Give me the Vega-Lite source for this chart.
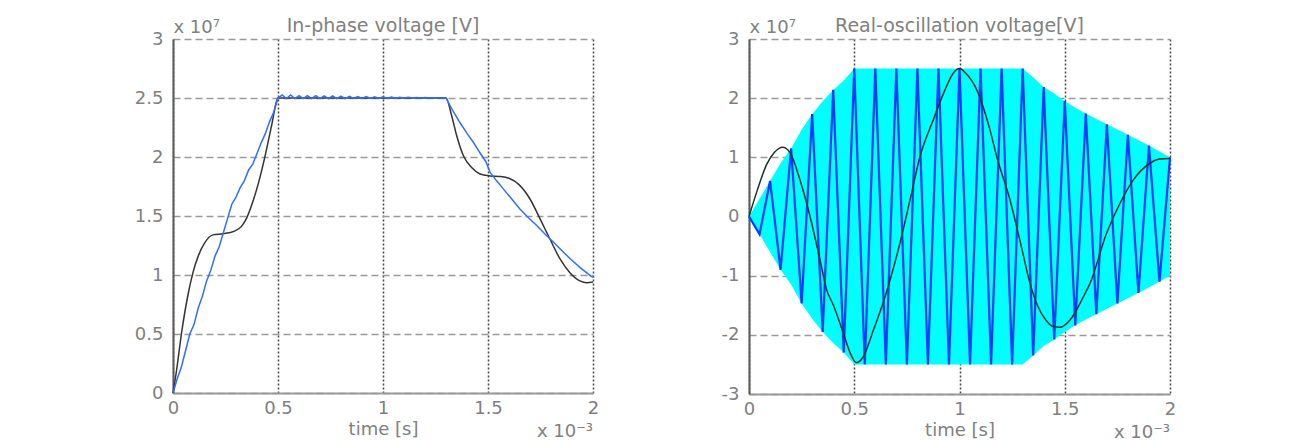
{
 "$schema": "https://vega.github.io/schema/vega-lite/v6.json",
 "padding": {"left": 134, "top": 17, "right": 5, "bottom": 0},
 "spacing": 156,
 "bounds": "flush",
 "config": {
  "font": "DejaVu Sans",
  "view": {"stroke": null},
  "title": {"fontSize": 19, "fontWeight": "normal", "color": "#808080", "offset": -18},
  "axis": {"labelFontSize": 18, "labelColor": "#808080", "titleFontSize": 18, "titleFontWeight": "normal", "titleColor": "#808080", "ticks": false, "domainWidth": 2, "labelFlush": false, "labelOverlap": false, "labelExpr": "toString(datum.value)", "labelPadding": 10},
  "axisX": {"gridColor": "#444444", "gridDash": [2, 2], "gridWidth": 1.5, "domainColor": "#999999", "labelPadding": 6, "titlePadding": 3},
  "axisY": {"gridColor": "#9a9a9a", "gridDash": [7, 4], "gridWidth": 1.5, "domainColor": "#5a5a5a", "titleAngle": 0, "titleX": 0, "titleY": -7, "titleAlign": "left", "titleBaseline": "alphabetic"}
 },
 "datasets": {
  "inphase_black": [
   {"t": 0, "v": 0}, {"t": 0.016, "v": 0.18}, {"t": 0.04, "v": 0.5}, {"t": 0.07, "v": 0.82}, {"t": 0.095, "v": 1.02}, {"t": 0.12, "v": 1.16}, {"t": 0.15, "v": 1.27}, {"t": 0.19, "v": 1.34}, {"t": 0.24, "v": 1.35}, {"t": 0.29, "v": 1.37}, {"t": 0.325, "v": 1.41}, {"t": 0.35, "v": 1.48}, {"t": 0.38, "v": 1.62}, {"t": 0.41, "v": 1.8}, {"t": 0.44, "v": 2.02}, {"t": 0.47, "v": 2.27}, {"t": 0.5, "v": 2.5}, {"t": 1.3, "v": 2.5}, {"t": 1.327, "v": 2.35}, {"t": 1.351, "v": 2.18}, {"t": 1.383, "v": 2.01}, {"t": 1.422, "v": 1.91}, {"t": 1.462, "v": 1.856}, {"t": 1.51, "v": 1.84}, {"t": 1.56, "v": 1.835}, {"t": 1.6, "v": 1.82}, {"t": 1.645, "v": 1.77}, {"t": 1.7, "v": 1.644}, {"t": 1.748, "v": 1.475}, {"t": 1.795, "v": 1.305}, {"t": 1.843, "v": 1.136}, {"t": 1.89, "v": 1.02}, {"t": 1.938, "v": 0.95}, {"t": 1.97, "v": 0.935}, {"t": 2.0, "v": 0.94}
  ],
  "inphase_blue": [
   {"t": 0, "v": 0}, {"t": 0.02, "v": 0.12}, {"t": 0.04, "v": 0.22}, {"t": 0.06, "v": 0.36}, {"t": 0.08, "v": 0.5}, {"t": 0.1, "v": 0.58}, {"t": 0.12, "v": 0.72}, {"t": 0.14, "v": 0.82}, {"t": 0.16, "v": 0.95}, {"t": 0.18, "v": 1.04}, {"t": 0.2, "v": 1.16}, {"t": 0.22, "v": 1.24}, {"t": 0.24, "v": 1.36}, {"t": 0.26, "v": 1.48}, {"t": 0.28, "v": 1.6}, {"t": 0.3, "v": 1.66}, {"t": 0.32, "v": 1.74}, {"t": 0.34, "v": 1.8}, {"t": 0.36, "v": 1.89}, {"t": 0.38, "v": 1.94}, {"t": 0.4, "v": 2.03}, {"t": 0.42, "v": 2.12}, {"t": 0.44, "v": 2.2}, {"t": 0.46, "v": 2.3}, {"t": 0.48, "v": 2.38}, {"t": 0.5, "v": 2.5},
   {"t": 0.52, "v": 2.525}, {"t": 0.54, "v": 2.495}, {"t": 0.56, "v": 2.525}, {"t": 0.58, "v": 2.495}, {"t": 0.6, "v": 2.52}, {"t": 0.62, "v": 2.495}, {"t": 0.64, "v": 2.52}, {"t": 0.66, "v": 2.495}, {"t": 0.68, "v": 2.52}, {"t": 0.7, "v": 2.495}, {"t": 0.72, "v": 2.518}, {"t": 0.74, "v": 2.495}, {"t": 0.76, "v": 2.518}, {"t": 0.78, "v": 2.495}, {"t": 0.8, "v": 2.515}, {"t": 0.82, "v": 2.495}, {"t": 0.84, "v": 2.515}, {"t": 0.86, "v": 2.497}, {"t": 0.88, "v": 2.513}, {"t": 0.9, "v": 2.497}, {"t": 0.92, "v": 2.512}, {"t": 0.94, "v": 2.497}, {"t": 0.96, "v": 2.51}, {"t": 0.98, "v": 2.497}, {"t": 1.0, "v": 2.51}, {"t": 1.02, "v": 2.498}, {"t": 1.04, "v": 2.508}, {"t": 1.06, "v": 2.498}, {"t": 1.08, "v": 2.507}, {"t": 1.1, "v": 2.5}, {"t": 1.12, "v": 2.506}, {"t": 1.14, "v": 2.5}, {"t": 1.16, "v": 2.505}, {"t": 1.18, "v": 2.5}, {"t": 1.2, "v": 2.504}, {"t": 1.22, "v": 2.5}, {"t": 1.24, "v": 2.503}, {"t": 1.26, "v": 2.5}, {"t": 1.28, "v": 2.5}, {"t": 1.3, "v": 2.5},
   {"t": 1.33, "v": 2.4}, {"t": 1.367, "v": 2.29}, {"t": 1.4, "v": 2.2}, {"t": 1.43, "v": 2.125}, {"t": 1.46, "v": 2.04}, {"t": 1.49, "v": 1.96}, {"t": 1.51, "v": 1.87}, {"t": 1.54, "v": 1.8}, {"t": 1.573, "v": 1.73}, {"t": 1.61, "v": 1.65}, {"t": 1.652, "v": 1.56}, {"t": 1.69, "v": 1.49}, {"t": 1.732, "v": 1.42}, {"t": 1.77, "v": 1.35}, {"t": 1.811, "v": 1.28}, {"t": 1.85, "v": 1.21}, {"t": 1.89, "v": 1.14}, {"t": 1.94, "v": 1.06}, {"t": 1.99, "v": 0.99}, {"t": 2.0, "v": 0.98}
  ],
  "env": [
   {"t": 0, "v": 0, "v2": 0}, {"t": 0.05, "v": 0.3, "v2": -0.3}, {"t": 0.1, "v": 0.6, "v2": -0.6}, {"t": 0.15, "v": 0.9, "v2": -0.9}, {"t": 0.2, "v": 1.15, "v2": -1.15}, {"t": 0.25, "v": 1.47, "v2": -1.47}, {"t": 0.3, "v": 1.73, "v2": -1.73}, {"t": 0.35, "v": 1.95, "v2": -1.95}, {"t": 0.4, "v": 2.14, "v2": -2.14}, {"t": 0.45, "v": 2.3, "v2": -2.3}, {"t": 0.5, "v": 2.5, "v2": -2.5}, {"t": 1.3, "v": 2.5, "v2": -2.5}, {"t": 1.35, "v": 2.35, "v2": -2.35}, {"t": 1.4, "v": 2.19, "v2": -2.19}, {"t": 1.45, "v": 2.08, "v2": -2.08}, {"t": 1.5, "v": 1.95, "v2": -1.95}, {"t": 1.55, "v": 1.84, "v2": -1.84}, {"t": 1.6, "v": 1.74, "v2": -1.74}, {"t": 1.65, "v": 1.65, "v2": -1.65}, {"t": 1.7, "v": 1.56, "v2": -1.56}, {"t": 1.75, "v": 1.47, "v2": -1.47}, {"t": 1.8, "v": 1.38, "v2": -1.38}, {"t": 1.85, "v": 1.29, "v2": -1.29}, {"t": 1.9, "v": 1.2, "v2": -1.2}, {"t": 1.95, "v": 1.1, "v2": -1.1}, {"t": 2.0, "v": 1.0, "v2": -1.0}
  ],
  "carrier": [
   {"t": 0, "v": 0}, {"t": 0.05, "v": -0.3}, {"t": 0.1, "v": 0.6}, {"t": 0.15, "v": -0.9}, {"t": 0.2, "v": 1.15}, {"t": 0.25, "v": -1.47}, {"t": 0.3, "v": 1.73}, {"t": 0.35, "v": -1.95}, {"t": 0.4, "v": 2.14}, {"t": 0.45, "v": -2.3}, {"t": 0.5, "v": 2.5}, {"t": 0.55, "v": -2.5}, {"t": 0.6, "v": 2.5}, {"t": 0.65, "v": -2.5}, {"t": 0.7, "v": 2.5}, {"t": 0.75, "v": -2.5}, {"t": 0.8, "v": 2.5}, {"t": 0.85, "v": -2.5}, {"t": 0.9, "v": 2.5}, {"t": 0.95, "v": -2.5}, {"t": 1.0, "v": 2.5}, {"t": 1.05, "v": -2.5}, {"t": 1.1, "v": 2.5}, {"t": 1.15, "v": -2.5}, {"t": 1.2, "v": 2.5}, {"t": 1.25, "v": -2.5}, {"t": 1.3, "v": 2.5}, {"t": 1.35, "v": -2.35}, {"t": 1.4, "v": 2.19}, {"t": 1.45, "v": -2.08}, {"t": 1.5, "v": 1.95}, {"t": 1.55, "v": -1.84}, {"t": 1.6, "v": 1.74}, {"t": 1.65, "v": -1.65}, {"t": 1.7, "v": 1.56}, {"t": 1.75, "v": -1.47}, {"t": 1.8, "v": 1.38}, {"t": 1.85, "v": -1.29}, {"t": 1.9, "v": 1.2}, {"t": 1.95, "v": -1.1}, {"t": 2.0, "v": 1.0}
  ],
  "real_black": [
   {"t": 0, "v": 0}, {"t": 0.04, "v": 0.45}, {"t": 0.084, "v": 0.88}, {"t": 0.12, "v": 1.08}, {"t": 0.16, "v": 1.17}, {"t": 0.195, "v": 1.08}, {"t": 0.242, "v": 0.62}, {"t": 0.29, "v": 0.0}, {"t": 0.337, "v": -0.73}, {"t": 0.369, "v": -1.24}, {"t": 0.401, "v": -1.5}, {"t": 0.448, "v": -1.97}, {"t": 0.48, "v": -2.3}, {"t": 0.51, "v": -2.47}, {"t": 0.543, "v": -2.37}, {"t": 0.591, "v": -1.92}, {"t": 0.646, "v": -1.36}, {"t": 0.717, "v": -0.45}, {"t": 0.765, "v": 0.28}, {"t": 0.812, "v": 1.01}, {"t": 0.875, "v": 1.63}, {"t": 0.931, "v": 2.14}, {"t": 0.97, "v": 2.42}, {"t": 1.0, "v": 2.5}, {"t": 1.03, "v": 2.42}, {"t": 1.082, "v": 2.14}, {"t": 1.145, "v": 1.46}, {"t": 1.177, "v": 1.01}, {"t": 1.24, "v": 0.28}, {"t": 1.29, "v": -0.45}, {"t": 1.335, "v": -1.13}, {"t": 1.37, "v": -1.5}, {"t": 1.41, "v": -1.75}, {"t": 1.446, "v": -1.86}, {"t": 1.478, "v": -1.87}, {"t": 1.525, "v": -1.75}, {"t": 1.588, "v": -1.36}, {"t": 1.62, "v": -1.13}, {"t": 1.699, "v": -0.28}, {"t": 1.762, "v": 0.22}, {"t": 1.826, "v": 0.62}, {"t": 1.905, "v": 0.9}, {"t": 1.95, "v": 0.97}, {"t": 2.0, "v": 0.98}
  ]
 },
 "hconcat": [
  {
   "width": 420,
   "height": 354,
   "title": "In-phase voltage [V]",
   "encoding": {
    "x": {"field": "t", "type": "quantitative", "scale": {"domain": [0, 2], "nice": false, "zero": false}, "axis": {"values": [0, 0.5, 1, 1.5, 2], "title": "time [s]"}},
    "y": {"field": "v", "type": "quantitative", "scale": {"domain": [0, 3], "nice": false}, "axis": {"values": [0, 0.5, 1, 1.5, 2, 2.5, 3], "title": "x 10⁷"}}
   },
   "layer": [
    {"data": {"name": "inphase_black"}, "mark": {"type": "line", "color": "#333333", "strokeWidth": 1.5, "interpolate": "monotone"}},
    {"data": {"name": "inphase_blue"}, "mark": {"type": "line", "color": "#2f6fff", "strokeWidth": 1.5}},
    {"data": {"values": [{"t": 2, "v": 0, "label": "x 10⁻³"}]}, "mark": {"type": "text", "align": "right", "baseline": "alphabetic", "dy": 44, "fontSize": 18, "color": "#808080"}, "encoding": {"text": {"field": "label"}}}
   ]
  },
  {
   "width": 421,
   "height": 355,
   "title": "Real-oscillation voltage[V]",
   "encoding": {
    "x": {"field": "t", "type": "quantitative", "scale": {"domain": [0, 2], "nice": false, "zero": false}, "axis": {"values": [0, 0.5, 1, 1.5, 2], "title": "time [s]"}},
    "y": {"field": "v", "type": "quantitative", "scale": {"domain": [-3, 3], "nice": false}, "axis": {"values": [-3, -2, -1, 0, 1, 2, 3], "title": "x 10⁷"}}
   },
   "layer": [
    {"data": {"name": "env"}, "mark": {"type": "area", "color": "#00ffff", "opacity": 1}, "encoding": {"y2": {"field": "v2"}}},
    {"data": {"name": "carrier"}, "mark": {"type": "line", "color": "#0a3cff", "strokeWidth": 2.2}},
    {"data": {"name": "real_black"}, "mark": {"type": "line", "color": "#1a3328", "strokeWidth": 1.5, "interpolate": "monotone"}},
    {"data": {"values": [{"t": 2, "v": -3, "label": "x 10⁻³"}]}, "mark": {"type": "text", "align": "right", "baseline": "alphabetic", "dy": 44, "fontSize": 18, "color": "#808080"}, "encoding": {"text": {"field": "label"}}}
   ]
  }
 ]
}
